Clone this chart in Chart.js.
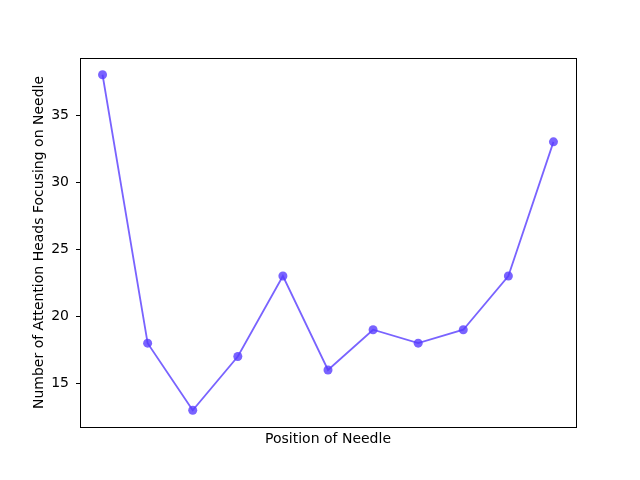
<!DOCTYPE html>
<html>
<head>
<meta charset="utf-8">
<script src="https://cdn.jsdelivr.net/npm/chart.js@4"></script>
<style>
  html, body { margin: 0; padding: 0; background: #fff; }
  #wrap { width: 640px; height: 480px; }
</style>
</head>
<body>
<div id="wrap"><canvas id="needleChart" width="640" height="480"></canvas></div>
<script>
// Data
const positions = [0, 1, 2, 3, 4, 5, 6, 7, 8, 9, 10];
const headCounts = [38, 18, 13, 17, 23, 16, 19, 18, 19, 23, 33];
const yTicks = [15, 20, 25, 30, 35];

const lineColor = 'rgba(88, 60, 255, 0.8)';
const fontFamily = '"DejaVu Sans", sans-serif';

// draw the full box around the plot, like matplotlib
const frameBox = {
    id: 'frameBox',
    afterDraw(chart) {
        const a = chart.chartArea;
        const c = chart.ctx;
        c.save();
        c.strokeStyle = '#000';
        c.lineWidth = 1;
        c.strokeRect(Math.round(a.left) + 0.5, Math.round(a.top) + 0.5,
            Math.round(a.right - a.left), Math.round(a.bottom - a.top));
        c.restore();
    }
};

new Chart(document.getElementById('needleChart'), {
    type: 'line',
    data: {
        datasets: [{
            data: positions.map((p, i) => ({ x: p, y: headCounts[i] })),
            borderColor: lineColor,
            backgroundColor: lineColor,
            pointBackgroundColor: lineColor,
            pointBorderColor: lineColor,
            borderWidth: 1.8,
            pointRadius: 4.5,
            pointBorderWidth: 0,
            tension: 0
        }]
    },
    options: {
        responsive: false,
        animation: false,
        layout: { padding: { left: 0, top: 58, right: 64, bottom: 0 } },
        plugins: {
            legend: { display: false },
            tooltip: { enabled: false }
        },
        scales: {
            x: {
                type: 'linear',
                min: -0.5,
                max: 10.5,
                grid: { display: false, drawTicks: false },
                border: { display: false },
                ticks: { display: false },
                title: {
                    display: true,
                    text: 'Position of Needle',
                    color: '#000',
                    font: { family: fontFamily, size: 14 },
                    padding: { top: 0, bottom: 32 }
                },
                afterFit(scale) { scale.height = 53; }
            },
            y: {
                min: 11.75,
                max: 39.25,
                afterBuildTicks(scale) {
                    scale.ticks = yTicks.map(v => ({ value: v }));
                },
                grid: {
                    drawOnChartArea: false,
                    drawTicks: true,
                    tickLength: 4,
                    color: '#000'
                },
                border: { display: false },
                ticks: {
                    color: '#000',
                    padding: 7,
                    font: { family: fontFamily, size: 14 }
                },
                title: {
                    display: true,
                    text: 'Number of Attention Heads Focusing on Needle',
                    color: '#000',
                    font: { family: fontFamily, size: 14 },
                    padding: { top: 31, bottom: 0 }
                },
                afterFit(scale) { scale.width = 80; }
            }
        }
    },
    plugins: [frameBox]
});
</script>
</body>
</html>
